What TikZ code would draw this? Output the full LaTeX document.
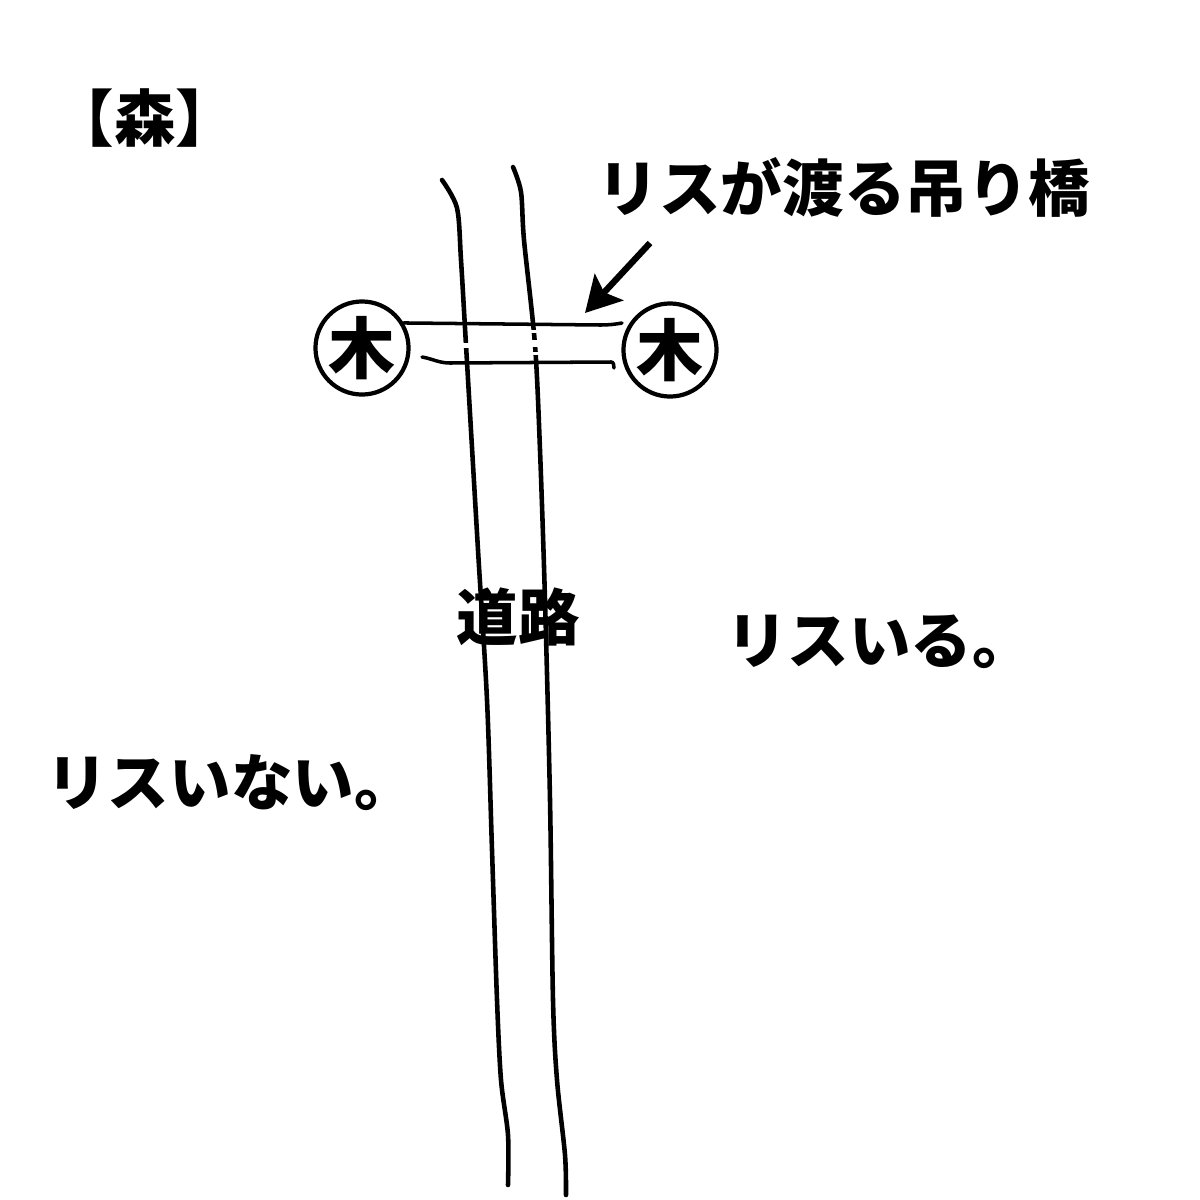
\documentclass[tikz,border=0pt]{standalone}
\usepackage{fontspec}
\newfontfamily\jpfont{Noto Sans CJK JP}
\usetikzlibrary{arrows.meta}

\tikzset{
  tag/.style={font=\jpfont\bfseries\fontsize{17.5}{21}\selectfont, inner sep=0pt},
  tree/.style={circle, draw, line width=1.2pt, minimum size=0.93cm, inner sep=0pt,
    font=\jpfont\bfseries\fontsize{19}{21}\selectfont},
  road/.style={line width=1.3pt, line cap=round, line join=round},
  rope/.style={line width=1pt, line cap=round},
  gap/.style={white, line width=2pt},
  pointer/.style={line width=1.8pt, -{Stealth[length=10pt,width=11pt,inset=2pt]}},
}

\begin{document}
\begin{tikzpicture}[x=0.01cm, y=-0.01cm]
  \useasboundingbox (0,0) rectangle (1200,1200);

  % the two trees
  \begin{scope}[every node/.style={tree}]
    \node (treeL) at (362,348) {木};
    \node (treeR) at (670,350) {木};
  \end{scope}

  % texts
  \begin{scope}[every node/.style={tag}]
    \node (forest)  at (145,118) {【森】};
    \node (bridge)  at (844,187) {リスが渡る吊り橋};
    \node (roadTxt) at (518,617) {道路};
    \node (withSq)  at (880,642) {リスいる。};
    \node (noSq)    at (231,783) {リスいない。};
  \end{scope}

  % road edges
  \draw[road] plot[smooth, tension=.5] coordinates {(442,180) (457,208) (461,260)
    (466,345) (478,550) (487,700) (492,850) (497,1000) (501,1080) (508,1135) (508,1185)};
  \draw[road] plot[smooth, tension=.5] coordinates {(513,167) (521,192) (524,240)
    (535,345) (540,450) (545,600) (550,800) (553,1000) (557,1080) (565,1155) (566,1195)};

  % small breaks in the road lines under the bridge
  \draw[gap] (466,343) -- (466,348);
  \draw[gap] (534,330) -- (534,333);
  \draw[gap] (535,340) -- (535,347);
  \draw[gap] (535,352) -- (535,355);

  % bridge ropes
  \coordinate (topEnd) at (622,323);
  \coordinate (lowStart) at (422,357);
  \coordinate (lowEnd) at (614,368);
  \draw[rope] (treeL.31) -- (600,325) to[out=0,in=190] (topEnd);
  \draw[rope] (lowStart) to[out=-10,in=180] (450,363) -- (611,362) to[out=0,in=90] (lowEnd);

  % arrow to the bridge
  \coordinate (arrowTail) at (650,243);
  \coordinate (arrowTip)  at (585,313);
  \draw[pointer] (arrowTail) -- (arrowTip);

\end{tikzpicture}
\end{document}
